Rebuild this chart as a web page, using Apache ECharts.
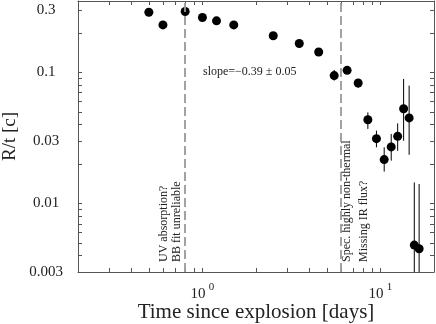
<!DOCTYPE html>
<html>
<head>
<meta charset="utf-8">
<script src="https://cdn.jsdelivr.net/npm/echarts@6/dist/echarts.min.js"></script>
<style>
  html, body { margin: 0; padding: 0; background: #fff; }
  #myChart { width: 436px; height: 324px; }
</style>
</head>
<body>
<div id="myChart"></div>
<script>
// time since explosion [days]
var days = [0.5, 0.6, 0.8, 1.0, 1.2, 1.5, 2.5, 3.5, 4.5, 5.5, 6.5, 7.5, 8.5, 9.5, 10.5, 11.5, 12.5, 13.5, 14.5, 15.5, 16.5];
// R/t [c]
var radiusOverT = [0.287, 0.230, 0.291, 0.262, 0.247, 0.230, 0.190, 0.166, 0.143, 0.0944, 0.1036, 0.0830, 0.0435, 0.0312, 0.0216, 0.0270, 0.0325, 0.0528, 0.0449, 0.00481, 0.00451];
// error bar ends (null = bar hidden by the marker)
var errLow = [null, null, null, null, null, null, null, 0.157, 0.133, 0.0864, 0.097, 0.076, 0.0370, 0.0268, 0.0175, 0.0212, 0.0252, 0.0301, 0.0235, 0.001, 0.001];
var errHigh = [null, null, null, null, null, null, null, 0.176, 0.153, 0.1043, 0.110, 0.089, 0.0495, 0.0359, 0.0268, 0.0339, 0.0408, 0.0891, 0.0792, 0.01445, 0.01406];
// vertical dashed markers [days]
var markerDays = [0.8, 6];
// ticks and labels
var xTicks = [0.2, 0.3, 0.4, 0.5, 0.6, 0.7, 0.8, 0.9, 1, 2, 3, 4, 5, 6, 7, 8, 9, 10, 20];
var xLabels = [1, 10];
var yTicks = [0.003, 0.004, 0.005, 0.006, 0.007, 0.008, 0.009, 0.01, 0.02, 0.03, 0.04, 0.05, 0.06, 0.07, 0.08, 0.09, 0.1, 0.2, 0.3];
var yLabels = [0.003, 0.01, 0.03, 0.1, 0.3];

var font = 'Liberation Serif';
var frameColor = '#555';
var noteFont = '12px "Liberation Serif"';

var points = days.map(function (d, i) { return [d, radiusOverT[i]]; });
var bars = [];
days.forEach(function (d, i) {
  if (errLow[i] != null) bars.push([d, errLow[i], errHigh[i]]);
});

function xAxisOf(pos, withLabels) {
  return {
    type: 'log',
    position: pos,
    min: 0.2,
    max: 20,
    name: withLabels ? 'Time since explosion [days]' : '',
    nameLocation: 'middle',
    nameGap: 30,
    nameMoveOverlap: false,
    nameTextStyle: { fontFamily: font, fontSize: 21, color: '#222' },
    axisLine: { show: true, lineStyle: { color: frameColor, width: 1 } },
    axisTick: { show: true, inside: true, length: 4, customValues: xTicks, lineStyle: { color: frameColor } },
    minorTick: { show: false },
    splitLine: { show: false },
    axisLabel: {
      show: withLabels,
      customValues: xLabels,
      margin: 10,
      formatter: function (v) {
        return '{b|10} {s|' + Math.round(Math.log10(v)) + '}';
      },
      rich: {
        b: { fontFamily: font, fontSize: 15, color: '#222', lineHeight: 20, verticalAlign: 'bottom' },
        s: { fontFamily: font, fontSize: 11, color: '#222', verticalAlign: 'top' }
      }
    }
  };
}

function yAxisOf(pos, withLabels) {
  return {
    type: 'log',
    position: pos,
    min: 0.003,
    max: 0.35,
    name: withLabels ? 'R/t [c]' : '',
    nameLocation: 'middle',
    nameGap: 58,
    nameMoveOverlap: false,
    nameRotate: 90,
    nameTextStyle: { fontFamily: font, fontSize: 19, color: '#222' },
    axisLine: { show: true, lineStyle: { color: frameColor, width: 1 } },
    axisTick: { show: true, inside: true, length: 4, customValues: yTicks, lineStyle: { color: frameColor } },
    minorTick: { show: false },
    splitLine: { show: false },
    axisLabel: {
      show: withLabels,
      customValues: yLabels,
      margin: 32,
      align: 'center',
      fontFamily: font,
      fontSize: 15,
      color: '#222',
      formatter: function (v) { return String(+(+v).toPrecision(3)); }
    }
  };
}

var myChart = echarts.init(document.getElementById('myChart'));
myChart.setOption({
  animation: false,
  backgroundColor: '#fff',
  grid: { left: 78, right: 2, top: 1, bottom: 52, containLabel: false, outerBoundsMode: 'none' },
  xAxis: [xAxisOf('bottom', true), xAxisOf('top', false)],
  yAxis: [yAxisOf('left', true), yAxisOf('right', false)],
  series: [
    {
      type: 'custom',
      xAxisIndex: 0,
      yAxisIndex: 0,
      clip: true,
      z: 2,
      encode: { x: 0, y: [1, 2] },
      data: bars,
      renderItem: function (params, api) {
        var lo = api.coord([api.value(0), api.value(1)]);
        var hi = api.coord([api.value(0), api.value(2)]);
        return {
          type: 'line',
          shape: { x1: lo[0], y1: lo[1], x2: hi[0], y2: hi[1] },
          style: { stroke: '#000', lineWidth: 1 }
        };
      }
    },
    {
      type: 'scatter',
      xAxisIndex: 0,
      yAxisIndex: 0,
      z: 3,
      symbolSize: 9,
      itemStyle: { color: '#000', opacity: 1 },
      data: points,
      markLine: {
        silent: true,
        symbol: ['none', 'none'],
        label: { show: false },
        lineStyle: { color: '#999', type: [9, 4], width: 1.8 },
        data: markerDays.map(function (d) { return { xAxis: d }; })
      }
    }
  ],
  graphic: [
    { type: 'text', x: 203, y: 72, style: { text: 'slope=\u22120.39 \u00b1 0.05', font: noteFont, fill: '#222', verticalAlign: 'middle' } },
    { type: 'text', x: 164, y: 262, rotation: Math.PI / 2, style: { text: 'UV absorption?', font: noteFont, fill: '#222', verticalAlign: 'middle' } },
    { type: 'text', x: 177, y: 262, rotation: Math.PI / 2, style: { text: 'BB fit unreliable', font: noteFont, fill: '#222', verticalAlign: 'middle' } },
    { type: 'text', x: 347, y: 262, rotation: Math.PI / 2, style: { text: 'Spec. highly non-thermal', font: noteFont, fill: '#222', verticalAlign: 'middle' } },
    { type: 'text', x: 364, y: 262, rotation: Math.PI / 2, style: { text: 'Missing IR flux?', font: noteFont, fill: '#222', verticalAlign: 'middle' } }
  ]
});
</script>
</body>
</html>
